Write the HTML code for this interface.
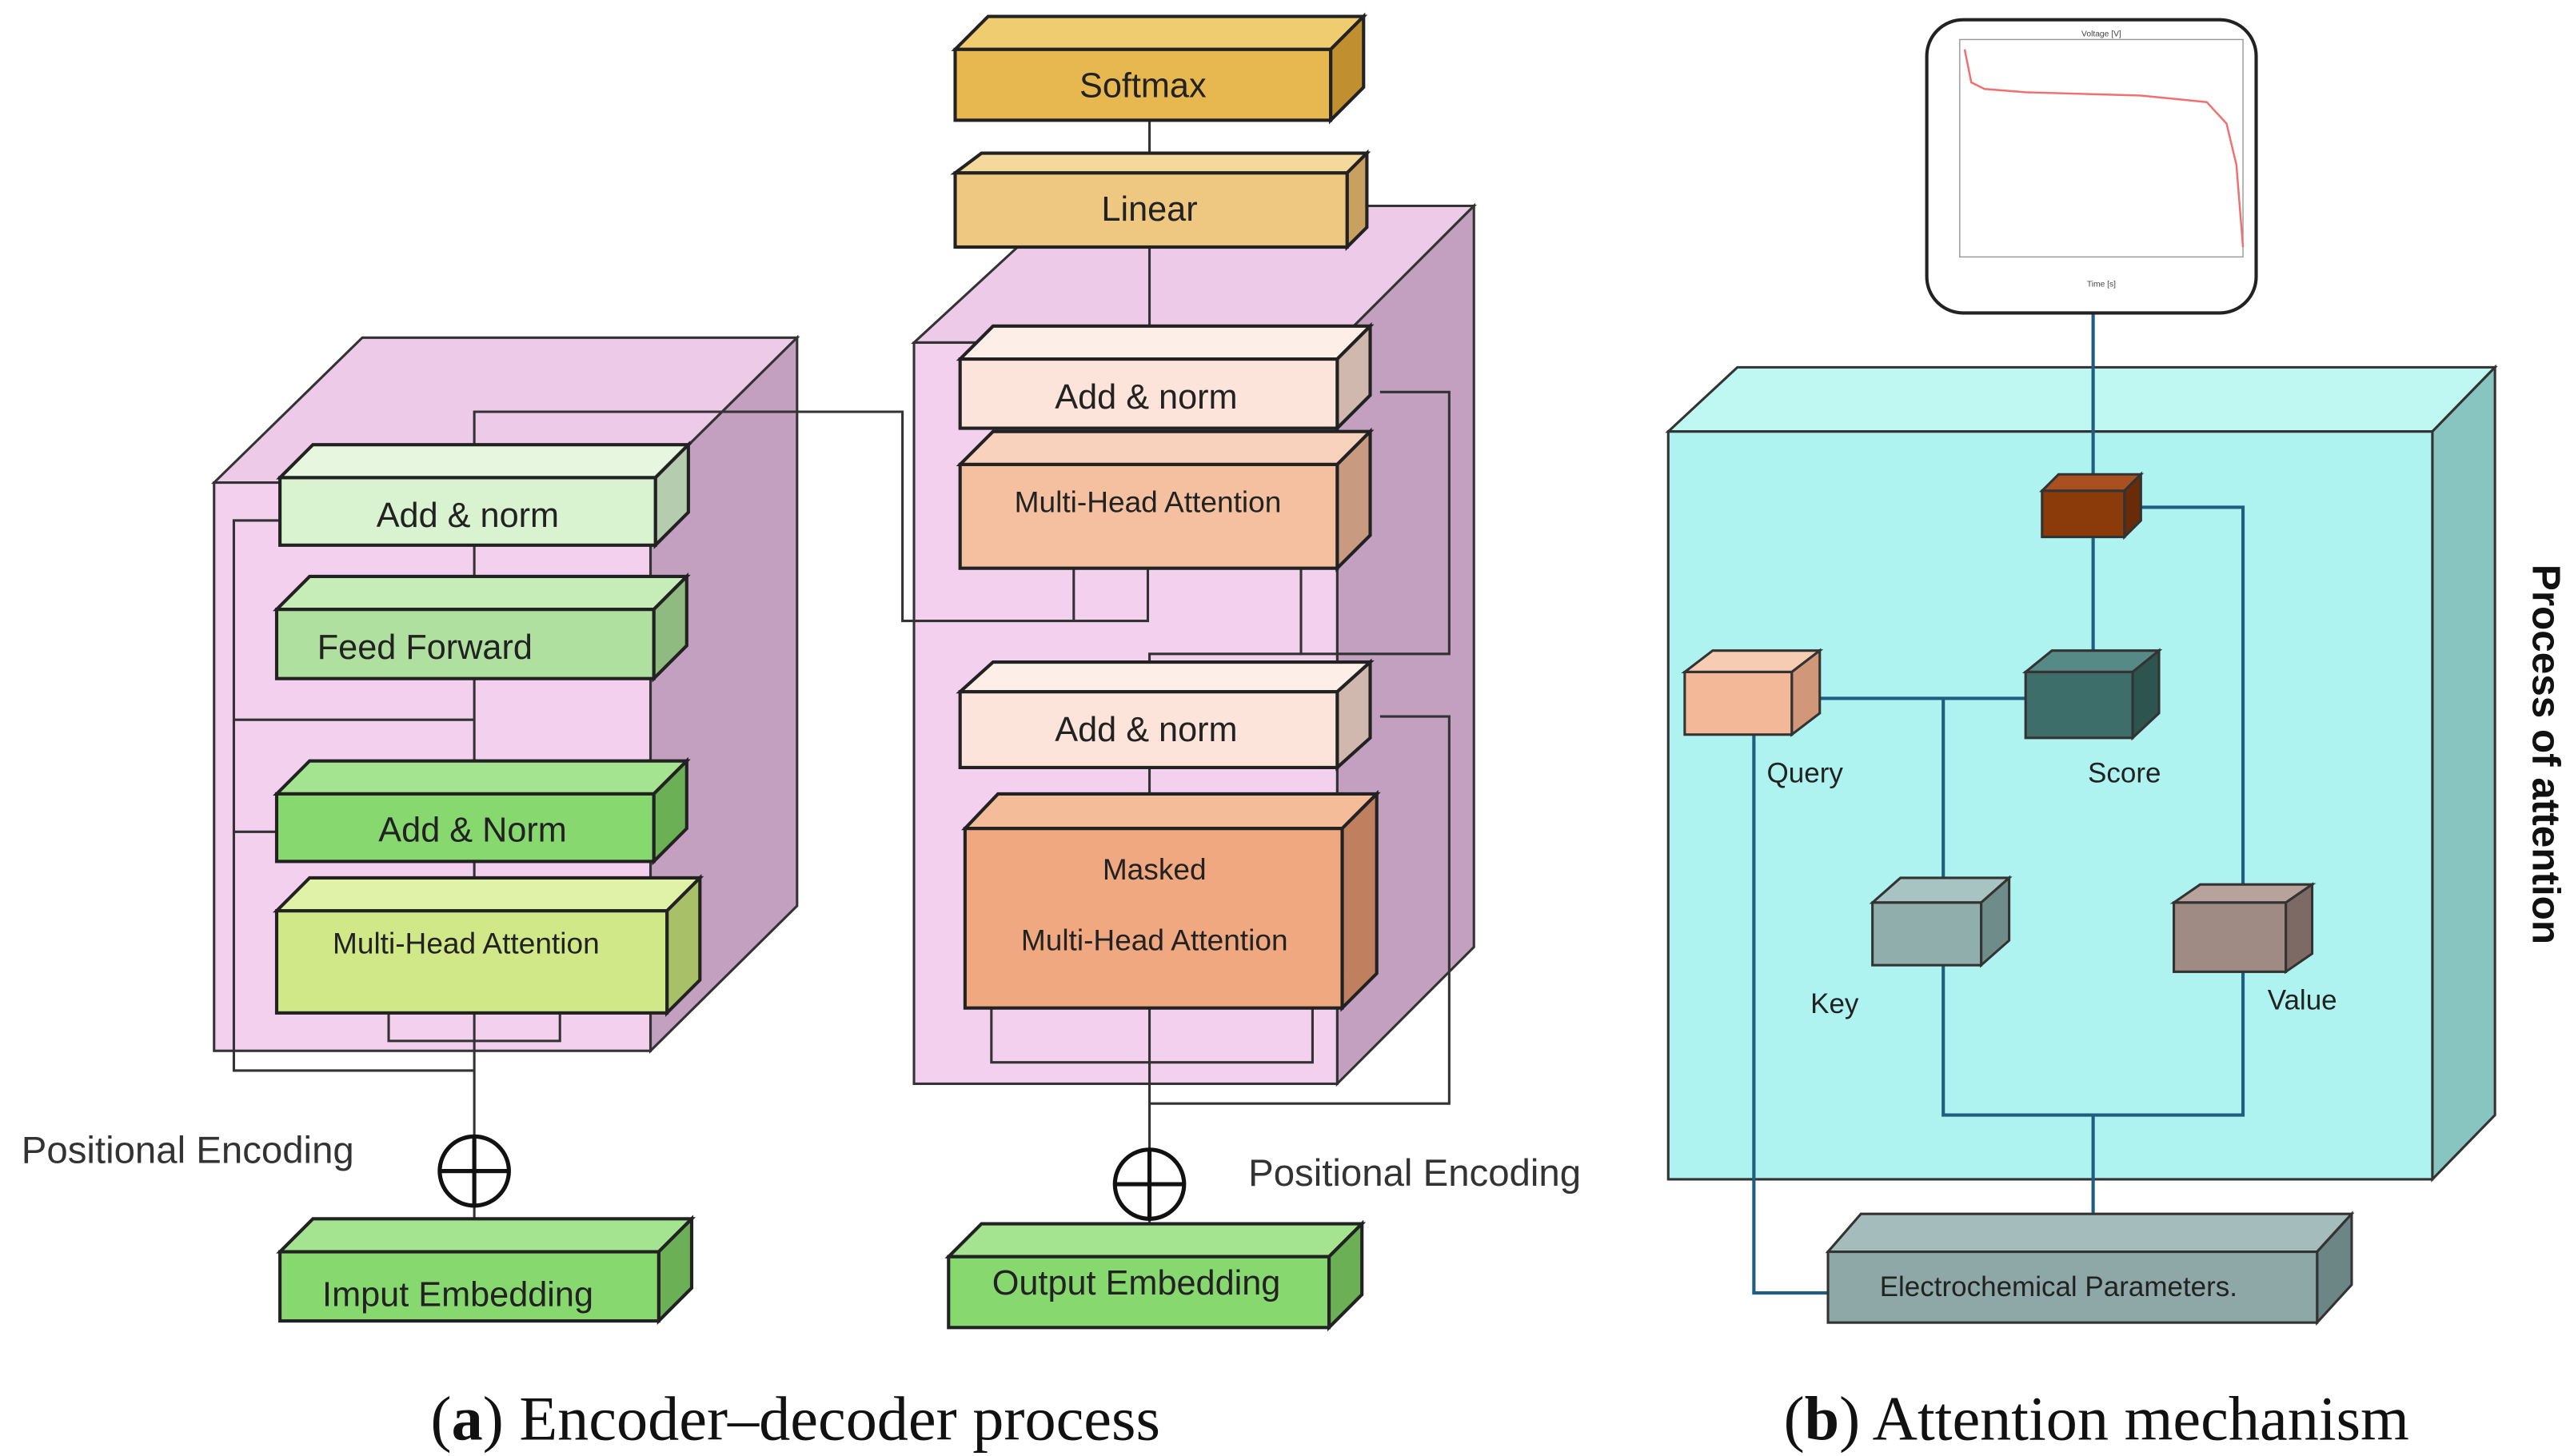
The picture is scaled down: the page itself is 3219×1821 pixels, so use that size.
<!DOCTYPE html>
<html><head><style>html,body{margin:0;padding:0;background:#fff}svg{display:block}</style></head>
<body>
<svg width="3219" height="1821" viewBox="0 0 1563 884" preserveAspectRatio="none" xmlns="http://www.w3.org/2000/svg" font-family="Liberation Sans, sans-serif">
<!-- Encoder container -->
<polygon points="130,293 220,205 484,205 395,293" fill="#eccae8" stroke="#333" stroke-width="1.5"/>
<polygon points="395,293 484,205 484,550 395,638" fill="#c3a0bf" stroke="#333" stroke-width="1.5"/>
<rect x="130" y="293" width="265" height="345" fill="#f2d0ee" stroke="#333" stroke-width="1.5"/>
<!-- Decoder container -->
<polygon points="555,208 645,125 895,125 812,208" fill="#eccae8" stroke="#333" stroke-width="1.5"/>
<polygon points="812,208 895,125 895,575 812,658" fill="#c3a0bf" stroke="#333" stroke-width="1.5"/>
<rect x="555" y="208" width="257" height="450" fill="#f2d0ee" stroke="#333" stroke-width="1.5"/>

<g stroke="#333" stroke-width="1.5" fill="none">
<polyline points="288,690 288,250 548,250 548,377 697,377 697,345"/>
<polyline points="288,650 142,650 142,316 170,316"/>
<polyline points="288,437 142,437"/>
<polyline points="168,505 142,505"/>
<polyline points="236,615 236,632 340,632 340,615"/>
<polyline points="652,345 652,377"/>
<line x1="698" y1="73" x2="698" y2="218"/>
<line x1="698" y1="612" x2="698" y2="700"/>
<polyline points="698,670 880,670 880,435 838,435"/>
<polyline points="790,345 790,397 880,397 880,238 838,238"/>
<polyline points="698,420 698,397 790,397"/>
<polyline points="698,466 698,503"/>
<polyline points="602,612 602,645 797,645 797,612"/>
<line x1="288" y1="732" x2="288" y2="760"/>
<line x1="698" y1="740" x2="698" y2="763"/>
</g>

<g stroke="#222" stroke-width="2">
<polygon points="170,290 190,270 418,270 398,290" fill="#e6f6df"/><polygon points="398,290 418,270 418,311 398,331" fill="#b6ccae"/><rect x="170" y="290" width="228" height="41" fill="#d9f2d0"/>
<polygon points="168,370 188,350 417,350 397,370" fill="#c6ecb8"/><polygon points="397,370 417,350 417,392 397,412" fill="#8fba80"/><rect x="168" y="370" width="229" height="42" fill="#b0e0a0"/>
<polygon points="168,482 188,462 417,462 397,482" fill="#a4e490"/><polygon points="397,482 417,462 417,503 397,523" fill="#6cb055"/><rect x="168" y="482" width="229" height="41" fill="#88d870"/>
<polygon points="168,553 188,533 425,533 405,553" fill="#e0f2a8"/><polygon points="405,553 425,533 425,595 405,615" fill="#a8c068"/><rect x="168" y="553" width="237" height="62" fill="#d0e888"/>
<polygon points="170,760 190,740 420,740 400,760" fill="#a4e490"/><polygon points="400,760 420,740 420,782 400,802" fill="#6cb055"/><rect x="170" y="760" width="230" height="42" fill="#88d870"/>
<polygon points="580,30 600,10 828,10 808,30" fill="#f0cc70"/><polygon points="808,30 828,10 828,53 808,73" fill="#c09030"/><rect x="580" y="30" width="228" height="43" fill="#e8b850"/>
<polygon points="580,105 596,93 830,93 818,105" fill="#f4d89c"/><polygon points="818,105 830,93 830,138 818,150" fill="#c8a060"/><rect x="580" y="105" width="238" height="45" fill="#eec880"/>
<polygon points="583,218 603,198 832,198 812,218" fill="#fdeee8"/><polygon points="812,218 832,198 832,240 812,260" fill="#d0b8ae"/><rect x="583" y="218" width="229" height="42" fill="#fce4da"/>
<polygon points="583,282 603,262 832,262 812,282" fill="#f8d2bc"/><polygon points="812,282 832,262 832,325 812,345" fill="#c89a80"/><rect x="583" y="282" width="229" height="63" fill="#f4c0a0"/>
<polygon points="583,420 603,402 832,402 812,420" fill="#fdeee8"/><polygon points="812,420 832,402 832,448 812,466" fill="#d0b8ae"/><rect x="583" y="420" width="229" height="46" fill="#fce4da"/>
<polygon points="586,503 606,482 836,482 815,503" fill="#f4bc98"/><polygon points="815,503 836,482 836,591 815,612" fill="#c08060"/><rect x="586" y="503" width="229" height="109" fill="#f0a880"/>
<polygon points="576,763 596,743 827,743 807,763" fill="#a4e490"/><polygon points="807,763 827,743 827,786 807,806" fill="#6cb055"/><rect x="576" y="763" width="231" height="43" fill="#88d870"/>
</g>
<g stroke="#111" stroke-width="2.5" fill="#fff">
<circle cx="288" cy="711" r="21"/><line x1="267" y1="711" x2="309" y2="711"/><line x1="288" y1="690" x2="288" y2="732"/>
<circle cx="698" cy="719" r="21"/><line x1="677" y1="719" x2="719" y2="719"/><line x1="698" y1="698" x2="698" y2="740"/>
</g>
<g fill="#222" font-size="21" text-anchor="middle">
<text x="284" y="320">Add &amp; norm</text>
<text x="258" y="400">Feed Forward</text>
<text x="287" y="511">Add &amp; Norm</text>
<text x="283" y="579" font-size="18">Multi-Head Attention</text>
<text x="278" y="793">Imput Embedding</text>
<text x="694" y="59">Softmax</text>
<text x="698" y="134">Linear</text>
<text x="696" y="248">Add &amp; norm</text>
<text x="697" y="311" font-size="18">Multi-Head Attention</text>
<text x="696" y="450">Add &amp; norm</text>
<text x="701" y="534" font-size="18">Masked</text>
<text x="701" y="577" font-size="18">Multi-Head Attention</text>
<text x="690" y="786">Output Embedding</text>
<text x="114" y="706" font-size="23" fill="#333">Positional Encoding</text>
<text x="859" y="720" font-size="23" fill="#333">Positional Encoding</text>
</g>

<polygon points="1013,262 1055,223 1515,223 1477,262" fill="#bff7f3" stroke="#333" stroke-width="1.5"/>
<polygon points="1477,262 1515,223 1515,677 1477,716" fill="#88c4c0" stroke="#333" stroke-width="1.5"/>
<rect x="1013" y="262" width="464" height="454" fill="#aef3ef" stroke="#333" stroke-width="1.5"/>
<g stroke="#1f5e80" stroke-width="2" fill="none">
<line x1="1271" y1="190" x2="1271" y2="298"/>
<line x1="1271" y1="326" x2="1271" y2="408"/>
<polyline points="1290,308 1362,308 1362,548"/>
<polyline points="1103,424 1230,424"/>
<polyline points="1180,424 1180,548"/>
<polyline points="1065,446 1065,785 1110,785"/>
<polyline points="1180,586 1180,677 1362,677 1362,590"/>
<line x1="1271" y1="677" x2="1271" y2="743"/>
</g>
<g stroke="#333" stroke-width="1.5">
<polygon points="1240,298 1250,288 1300,288 1290,298" fill="#a85020"/><polygon points="1290,298 1300,288 1300,316 1290,326" fill="#6a2c08"/><rect x="1240" y="298" width="50" height="28" fill="#8b3a0a"/>
<polygon points="1023,408 1040,395 1105,395 1088,408" fill="#f6ccb2"/><polygon points="1088,408 1105,395 1105,433 1088,446" fill="#d09878"/><rect x="1023" y="408" width="65" height="38" fill="#f2b898"/>
<polygon points="1230,408 1246,395 1311,395 1295,408" fill="#568a86"/><polygon points="1295,408 1311,395 1311,433 1295,448" fill="#2e5450"/><rect x="1230" y="408" width="65" height="40" fill="#3e6e6a"/>
<polygon points="1137,548 1154,533 1220,533 1203,548" fill="#a8c4c2"/><polygon points="1203,548 1220,533 1220,571 1203,586" fill="#6e8c8a"/><rect x="1137" y="548" width="66" height="38" fill="#90aeac"/>
<polygon points="1320,548 1336,537 1404,537 1388,548" fill="#b8a29c"/><polygon points="1388,548 1404,537 1404,579 1388,590" fill="#7e6a64"/><rect x="1320" y="548" width="68" height="42" fill="#a08a84"/>
<polygon points="1110,760 1130,737 1428,737 1407,760" fill="#a4bcbc"/><polygon points="1407,760 1428,737 1428,780 1407,803" fill="#6c8686"/><rect x="1110" y="760" width="297" height="43" fill="#8ea8a8"/>
</g>
<g fill="#222" font-size="17" text-anchor="middle">
<text x="1096" y="475">Query</text>
<text x="1290" y="475">Score</text>
<text x="1114" y="615">Key</text>
<text x="1398" y="613">Value</text>
<text x="1250" y="787">Electrochemical Parameters.</text>
</g>
<text x="1538" y="458" font-size="24" font-weight="bold" fill="#111" text-anchor="middle" transform="rotate(90 1538 458)">Process of attention</text>
<rect x="1170" y="12" width="200" height="178" rx="22" fill="#fff" stroke="#222" stroke-width="2"/>
<rect x="1190" y="24" width="172" height="132" fill="#fff" stroke="#999" stroke-width="0.7"/>
<path d="M1193,30 L1197,50 L1205,54 L1230,56 L1300,58 L1340,62 L1352,75 L1358,100 L1362,150" fill="none" stroke="#f07070" stroke-width="1.2"/>
<text x="1276" y="22" font-size="5" text-anchor="middle" fill="#444">Voltage [V]</text>
<text x="1276" y="174" font-size="5" text-anchor="middle" fill="#444">Time [s]</text>

<g font-family="Liberation Serif, serif" font-size="38" fill="#111" text-anchor="middle">
<text x="483" y="874">(<tspan font-weight="bold">a</tspan>) Encoder–decoder process</text>
<text x="1273" y="874">(<tspan font-weight="bold">b</tspan>) Attention mechanism</text>
</g>
</svg>
</body></html>
